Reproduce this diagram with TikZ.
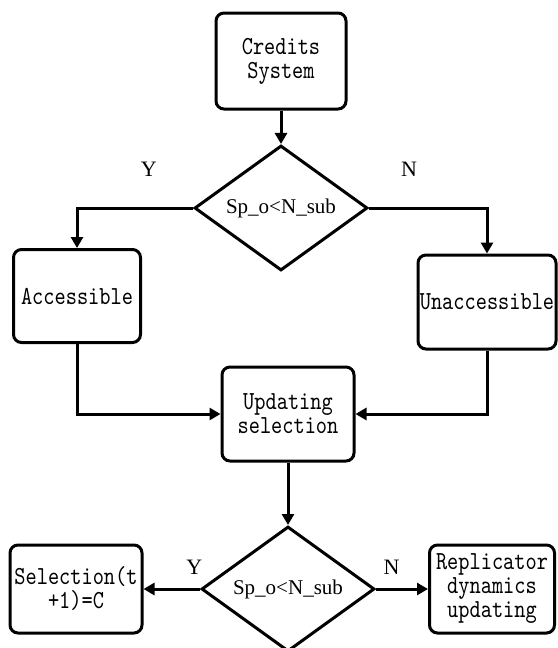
\documentclass[tikz,border=0pt]{standalone}
\usepackage{fontspec}
\setmainfont{Liberation Serif}
\newfontfamily\boxfont[FakeStretch=0.82]{lmmono10-regular.otf}
\usetikzlibrary{arrows.meta,positioning,shapes.geometric}
\tikzset{
  flowbox/.style = {rectangle, rounded corners=8pt, draw, line width=3pt, align=center, inner sep=0pt,
    font=\boxfont\fontsize{26}{24}\selectfont},
  decision/.style = {diamond, draw, line width=3pt, aspect=1.4, inner sep=0pt,
    minimum width=173pt, minimum height=125pt, font=\fontsize{21}{24}\selectfont},
  flowarrow/.style = {-{Triangle[length=11pt,width=12pt]}, line width=3pt},
  ynlabel/.style = {font=\fontsize{22}{24}\selectfont}
  }
\begin{document}
\begin{tikzpicture}[x=1pt,y=-1pt]
\useasboundingbox (0,0) rectangle (557,648);
\node[flowbox, minimum width=130pt, minimum height=96pt] (credits) at (281,61) {Credits\\System};
\node[decision] (check) at (281,208) {Sp\_o<N\_sub};
\node[flowbox, minimum width=127pt, minimum height=93pt] (access) at (77,296) {Accessible};
\node[flowbox, minimum width=138pt, minimum height=94pt] (unaccess) at (487,302) {Unaccessible};
\node[flowbox, minimum width=132pt, minimum height=94pt] (update) at (288,414) {Updating\\selection};
\node[decision] (recheck) at (288,589) {Sp\_o<N\_sub};
\node[flowbox, minimum width=132pt, minimum height=88pt] (select) at (76,589) {Selection(t\\+1)=C};
\node[flowbox, minimum width=125pt, minimum height=88pt] (replic) at (492,589) {Replicator\\dynamics\\updating};

\draw[flowarrow] (credits) -- (check);
\draw[flowarrow] (check.west) -| node[ynlabel, pos=0.19, above=27pt] {Y} (access.north);
\draw[flowarrow] (check.east) -| node[ynlabel, pos=0.17, above=27pt] {N} (unaccess.north);
\draw[flowarrow] (access.south) |- (update.west);
\draw[flowarrow] (unaccess.south) |- (update.east);
\draw[flowarrow] (update) -- (recheck);
\draw[flowarrow] (recheck.west) -- node[ynlabel, pos=0.1, above=10pt] {Y} (select.east);
\draw[flowarrow] (recheck.east) -- node[ynlabel, pos=0.3, above=10pt] {N} (replic.west);
\end{tikzpicture}
\end{document}
